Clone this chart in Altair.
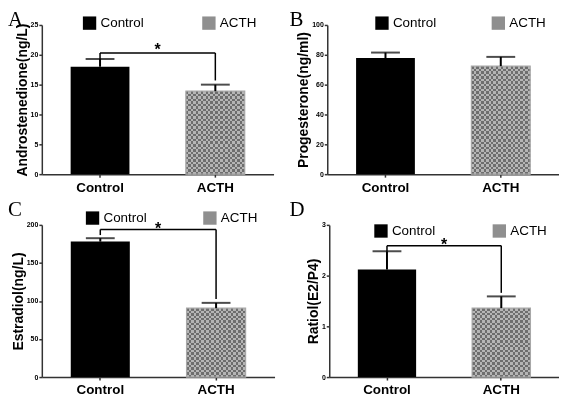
import altair as alt
import pandas as pd

# ---------------- data ----------------
groups = ["Control", "ACTH"]

andro_mean = [18.0, 13.9]
andro_upper = [19.3, 15.0]

prog_mean = [77.8, 72.4]
prog_upper = [81.5, 78.6]

e2_mean = [178.0, 90.5]
e2_upper = [182.5, 97.5]

ratio_mean = [2.12, 1.36]
ratio_upper = [2.48, 1.59]

# significance brackets: level, left-leg bottom, right-leg bottom, star baseline
andro_bracket = [20.3, 19.3, 15.7, 20.0]
e2_bracket = [194.0, 186.6, 102.7, 188.0]
ratio_bracket = [2.59, 2.48, 1.66, 2.51]

y_titles = ["Androstenedione(ng/L)", "Progesterone(ng/ml)", "Estradiol(ng/L)", "Ratiol(E2/P4)"]
y_max = [25, 100, 200, 3]
y_ticks = [[0, 5, 10, 15, 20, 25], [0, 20, 40, 60, 80, 100],
           [0, 50, 100, 150, 200], [0, 1, 2, 3]]
letters = ["A", "B", "C", "D"]
star = "*"

# ---------------- styling ----------------
SANS = "Liberation Sans"
SERIF = "Liberation Serif"
P_INNER, P_OUTER = 0.49, 0.25
CELL = 2.5


def stripes(n, horizontal):
    stops = []
    for i in range(n):
        c = "#000000" if i % 2 == 0 else "#ffffff"
        stops.append({"offset": i / n, "color": c})
        stops.append({"offset": (i + 1) / n, "color": c})
    if horizontal:
        return {"gradient": "linear", "stops": stops, "x1": 0, "y1": 0, "x2": 1, "y2": 0}
    return {"gradient": "linear", "stops": stops, "x1": 0, "y1": 0, "x2": 0, "y2": 1}


def panel(means, uppers, idx, width, height, legx, legy, colpad, letx, lety, bracket=None):
    df = pd.DataFrame({"group": groups, "value": means, "upper": uppers})
    xscale = alt.Scale(domain=groups, paddingInner=P_INNER, paddingOuter=P_OUTER)
    yscale = alt.Scale(domain=[0, y_max[idx]], nice=False)
    step = width / (len(groups) - P_INNER + 2 * P_OUTER)
    bandw = step * (1 - P_INNER)

    xaxis = alt.Axis(title=None, labelAngle=0, labelFont=SANS, labelFontWeight="bold",
                     labelFontSize=13.5, labelColor="black", labelPadding=3,
                     tickSize=3, tickWidth=1.5, tickColor="#333333",
                     domainColor="#333333", domainWidth=1.5, grid=False)
    yaxis = alt.Axis(values=y_ticks[idx], title=y_titles[idx], titleFont=SANS,
                     titleFontWeight="bold", titleFontSize=14, titleColor="black",
                     titlePadding=1, labelFont=SANS, labelFontWeight="bold",
                     labelFontSize=7, labelColor="black", labelPadding=1,
                     tickSize=3, tickWidth=1.5, tickColor="#333333",
                     domainColor="#333333", domainWidth=1.5, grid=False)

    def X(field):
        return alt.X(field, sort=groups, scale=xscale, axis=xaxis)

    def Y(field):
        return alt.Y(field, scale=yscale, axis=yaxis)

    base = alt.Chart(df)
    bars = base.mark_bar(size=bandw).encode(
        x=X("group:N"), y=Y("value:Q"),
        fill=alt.Fill("group:N", sort=groups,
                      scale=alt.Scale(domain=groups, range=["#000000", "#8f8f8f"]),
                      legend=alt.Legend(orient="none", legendX=legx, legendY=legy,
                                        direction="horizontal", title=None,
                                        symbolType="square", symbolSize=180,
                                        symbolStrokeWidth=0, labelFont=SANS,
                                        labelFontSize=13.5, labelColor="black",
                                        labelOffset=4, columnPadding=colpad, padding=0)))

    acth = base.transform_filter(alt.FieldEqualPredicate(field="group", equal=groups[1]))
    n_cols = max(2, round(bandw / CELL))
    n_rows = max(2, round(means[1] / y_max[idx] * height / CELL))
    chk1 = acth.mark_bar(size=bandw, fill=stripes(n_cols, True)).encode(x=X("group:N"), y=Y("value:Q"))
    chk2 = acth.mark_bar(size=bandw, fill=stripes(n_rows, False), blend="difference").encode(
        x=X("group:N"), y=Y("value:Q"))
    chk3 = acth.mark_bar(size=bandw, fill="#989898", fillOpacity=0.72).encode(x=X("group:N"), y=Y("value:Q"))
    border = acth.mark_bar(size=bandw, fillOpacity=0, stroke="#a8a8a8", strokeWidth=1.2).encode(
        x=X("group:N"), y=Y("value:Q"))

    err = base.mark_rule(color="black", strokeWidth=2).encode(
        x=X("group:N"), y=Y("value:Q"), y2="upper:Q")
    cap = base.mark_tick(color="black", size=29, thickness=2).encode(
        x=X("group:N"), y=Y("upper:Q"))

    letter_df = pd.DataFrame({"letter": [letters[idx]]})
    letter = alt.Chart(letter_df).mark_text(font=SERIF, fontSize=21, align="left",
                                            baseline="alphabetic", color="black").encode(
        x=alt.value(letx), y=alt.value(lety), text="letter:N")

    layers = [bars, chk1, chk2, chk3, border, err, cap]
    if bracket is not None:
        level, lb, rb, sy = bracket
        bdf = pd.DataFrame({"g1": [groups[0], groups[0], groups[1]],
                            "g2": [groups[1], groups[0], groups[1]],
                            "y1": [level, level, level],
                            "y2": [level, lb, rb]})
        br = alt.Chart(bdf).mark_rule(color="black", strokeWidth=1.5).encode(
            x=X("g1:N"), x2="g2:N", y=Y("y1:Q"), y2="y2:Q")
        sdf = pd.DataFrame({"group": [groups[0]], "y": [sy], "label": [star]})
        st = alt.Chart(sdf).mark_text(font=SANS, fontSize=16, fontWeight="bold", color="black",
                                      dx=step / 2, baseline="alphabetic", align="center").encode(
            x=X("group:N"), y=Y("y:Q"), text="label:N")
        layers += [br, st]
    layers.append(letter)
    return alt.layer(*layers).properties(width=width, height=height)


pA = panel(andro_mean, andro_upper, 0, 233, 150, 41, -9, 58, -34, 1, andro_bracket)
pB = panel(prog_mean, prog_upper, 1, 233, 150, 48, -9, 55, -38, 1)
pC = panel(e2_mean, e2_upper, 2, 234, 153, 44, -14, 56, -34, -9, e2_bracket)
pD = panel(ratio_mean, ratio_upper, 3, 231, 153, 45, -1, 57, -40, -9, ratio_bracket)

chart = alt.concat(pA, pB, pC, pD, columns=2, align="none",
                   spacing={"row": 5, "column": 15}).resolve_scale(fill="independent").resolve_legend(
    fill="independent").properties(padding=0, background="white").configure_view(strokeWidth=0)

chart.save("out.html", embed_options={"renderer": "svg", "actions": False})
